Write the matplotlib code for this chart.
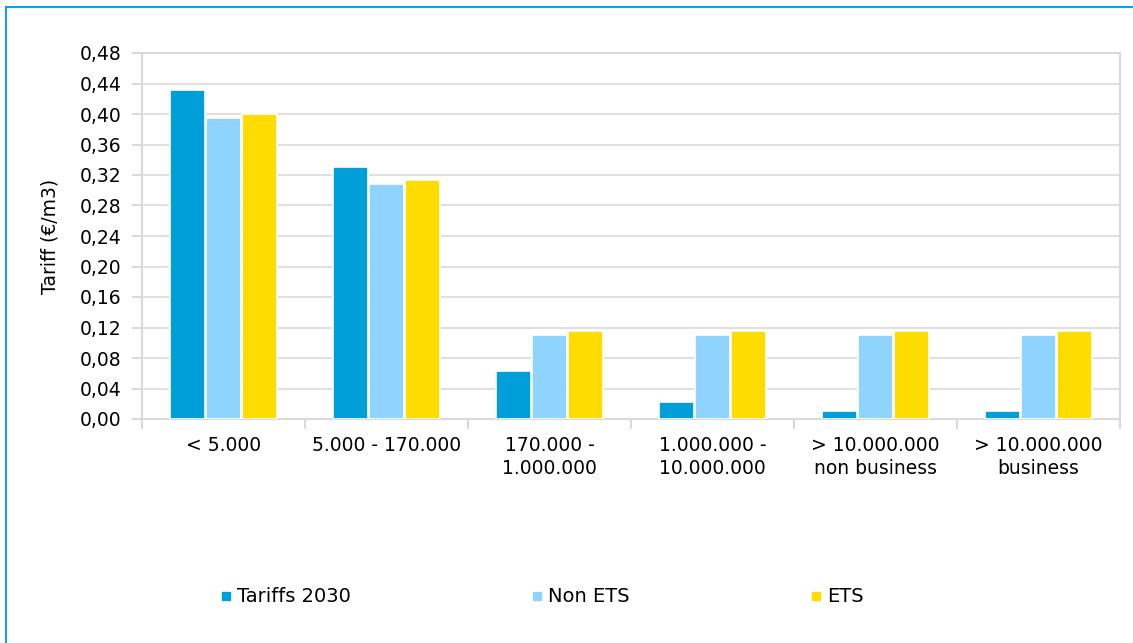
import matplotlib
matplotlib.use("Agg")
import matplotlib.pyplot as plt
from matplotlib.patches import Rectangle
from matplotlib.lines import Line2D
import numpy as np

categories = ["< 5.000", "5.000 - 170.000", "170.000 -\n1.000.000", "1.000.000 -\n10.000.000",
              "> 10.000.000\nnon business", "> 10.000.000\nbusiness"]
tariffs_2030 = [0.431, 0.331, 0.063, 0.022, 0.011, 0.011]
non_ets = [0.395, 0.308, 0.110, 0.110, 0.110, 0.110]
ets = [0.400, 0.313, 0.115, 0.115, 0.115, 0.115]
series_names = ["Tariffs 2030", "Non ETS", "ETS"]
colors = ["#009FDA", "#8FD3FF", "#FFDC00"]
yticks = np.arange(0, 0.481, 0.04)

plt.rcParams['font.family'] = ['DejaVu Sans']
fig = plt.figure(figsize=(11.33, 6.43), dpi=100)
W, H = 1133, 643
ax = fig.add_axes([142 / W, 1 - 419 / H, (1120 - 142) / W, (419 - 53) / H])

x = np.arange(len(categories))
off = 0.221
width = 0.215
for i, (vals, c) in enumerate(zip([tariffs_2030, non_ets, ets], colors)):
    ax.bar(x + (i - 1) * off, vals, width, color=c, edgecolor="white", linewidth=1.2, zorder=3,
           label=series_names[i])

ax.set_xlim(-0.5, len(categories) - 0.5)
ax.set_ylim(0, 0.48)
ax.set_yticks(yticks)
ax.set_yticklabels([f"{v:.2f}".replace(".", ",") for v in yticks], fontsize=13.5)
ax.set_xticks(x)
ax.set_xticklabels(categories, fontsize=13.5, linespacing=1.3)
ax.set_xticks(np.arange(-0.5, len(categories)), minor=True)
ax.tick_params(axis="x", which="major", length=0, pad=12)
ax.tick_params(axis="x", which="minor", length=7, color="#d9d9d9", width=1.5, direction="out")
ax.tick_params(axis="y", length=7, color="#d9d9d9", width=1.5, pad=8)
ax.grid(axis="y", color="#e0e0e0", linewidth=1.5, zorder=0)
for s in ax.spines.values():
    s.set_color("#d9d9d9")
    s.set_linewidth(1.5)
ax.set_ylabel("Tariff (€/m3)", fontsize=13.5, labelpad=14)

handles = [Line2D([], [], marker="s", linestyle="", color=c, markersize=6) for c in colors]
fig.legend(handles, series_names, loc="center left", bbox_to_anchor=(220 / W, 1 - 597 / H),
           ncol=3, frameon=False, fontsize=14, handlelength=0.6, handletextpad=0.25,
           columnspacing=9.3, borderaxespad=0, borderpad=0)

# outer blue frame
fig.patches.append(Rectangle((6 / W, -0.1), 1.2, 1 - 7 / H + 0.1, transform=fig.transFigure,
                             fill=False, edgecolor="#1a9fd8", linewidth=1.5))

fig.savefig("out.png", dpi=100)
